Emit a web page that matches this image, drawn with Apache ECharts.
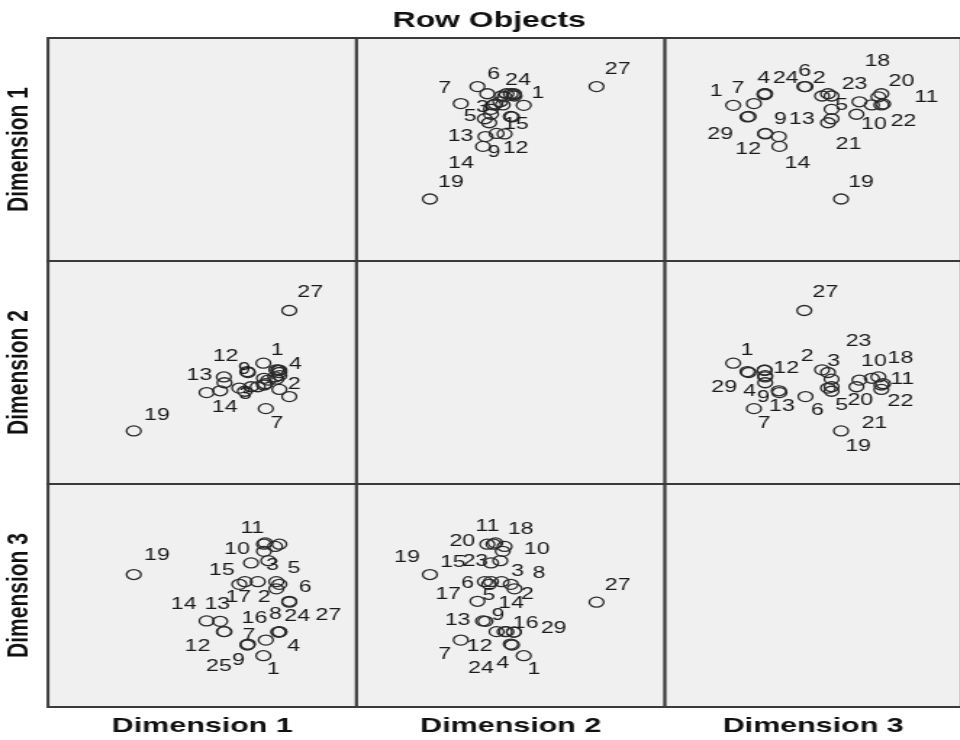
<!DOCTYPE html>
<html>
<head>
<meta charset="utf-8">
<script src="https://cdn.jsdelivr.net/npm/echarts@6/dist/echarts.min.js"></script>
<style>
  html, body { margin: 0; padding: 0; background: #ffffff; overflow: hidden; }
  #wrap { width: 960px; height: 740px; overflow: hidden; }
  #chart { width: 663px; height: 740px; transform: scaleX(1.45); transform-origin: 0 0; }
</style>
</head>
<body>
<div id="wrap"><div id="chart"></div></div>
<script>
// Object labels (row objects)
const objectIds = ['1','2','3','4','5','6','7','8','9','10','11','12','13','14','15','16','17','18','19','20','21','22','23','24','25','27','29'];
// Object scores per dimension
const dim1 = [0.49, 0.70, 0.70, 0.75, 0.40, 0.91, 0.53, 0.75, 0.23, 0.50, 0.52, -0.14, -0.21, -0.43, 0.19, 0.75, 0.10, 0.68, -1.61, 0.75, 0.29, 0.50, 0.57, 0.73, 0.24, 0.91, -0.15];
const dim2 = [-0.29, -0.44, -0.65, -0.45, -0.82, -1.04, -1.31, -0.50, -0.48, -0.63, -0.75, -0.73, -0.91, -0.95, -0.92, -0.57, -0.85, -0.60, -1.81, -0.88, -0.82, -0.78, -0.67, -0.45, -0.50, 0.89, -0.60];
const dim3 = [-1.85, -0.35, -0.19, -1.32, -0.19, -0.63, -1.50, -0.25, -1.61, 0.49, 0.68, -1.31, -1.08, -1.07, -0.19, -1.31, -0.25, 0.60, -0.03, 0.65, 0.23, 0.65, 0.28, -1.32, -1.59, -0.65, -1.31];
const dimensionNames = ['Dimension 1', 'Dimension 2', 'Dimension 3'];
const chartTitle = 'Row Objects';

// Label placement (style): which point labels are drawn in each panel and where,
// as the offset of the label centre from its marker, in screen pixels.
const labelPlacement = {
  '0-1': { '27': [22, -16], '19': [22, -16], '7': [-15, -14], '6': [17, -11], '24': [5, -13], '1': [15, -11],
           '3': [-18, 12], '5': [-20, 8], '13': [-24, 1], '15': [32, 7], '9': [-17, 36], '12': [20, 16], '14': [-21, 18] },
  '0-2': { '1': [-16, -13], '7': [-15, -14], '4': [0, -15], '24': [22, -15], '6': [0, -14], '2': [-2, -17], '23': [-4, -17],
           '18': [0, -35], '20': [21, -12], '11': [44, -6], '5': [11, -3], '9': [34, 3], '13': [24, -16], '10': [3, 20],
           '22': [23, 17], '29': [-44, 1], '12': [-16, 17], '21': [-7, 31], '14': [19, 18], '19': [21, -16] },
  '1-0': { '27': [22, -17], '19': [24, -15], '1': [15, -12], '4': [17, -5], '12': [2, -26], '9': [-2, -1], '13': [-20, -15],
           '3': [-30, 16], '2': [19, 15], '14': [19, 16], '7': [12, 16] },
  '1-2': { '27': [22, -17], '1': [15, -12], '12': [22, -14], '2': [-14, -13], '3': [3, -17], '23': [0, -38], '10': [3, -16],
           '18': [23, -18], '11': [20, -3], '22': [20, 17], '20': [-20, 12], '5': [11, 19], '21': [19, 37], '19': [18, 16],
           '6': [13, 15], '29': [-40, 11], '4': [-14, 22], '9': [17, 27], '13': [4, 16], '7': [11, 16] },
  '2-0': { '11': [-12, -14], '10': [-26, -1], '19': [24, -18], '3': [-3, -15], '5': [37, -12], '15': [-22, -10], '6': [17, -13],
           '17': [0, 14], '2': [-11, 9], '14': [-22, -16], '13': [-2, -16], '16': [-24, -12], '8': [-3, 31], '24': [20, -15],
           '27': [40, 14], '12': [-26, 16], '7': [-16, -4], '4': [15, 15], '25': [-28, 23], '9': [-8, 16], '1': [11, 15] },
  '2-1': { '11': [-7, -16], '18': [17, -16], '20': [-24, -2], '10': [35, -1], '19': [-22, -16], '15': [-31, -18], '23': [-24, 2],
           '3': [17, -9], '8': [29, -10], '27': [22, -16], '6': [-9, -17], '17': [-40, 11], '5': [-1, 15], '2': [14, 6],
           '14': [29, -17], '13': [-27, 0], '9': [-13, -29], '16': [20, -7], '29': [50, -2], '7': [-15, 15], '12': [-16, 16],
           '24': [-32, 37], '4': [-10, 32], '1': [11, 15] }
};

const dims = [dim1, dim2, dim3];
const S = 1.45;                       // horizontal stretch of the reference
const colLeft = [48 / S, 356.5 / S, 665 / S];
const colWidth = 308.5 / S;
const rowTop = [38, 261, 484];
const rowHeight = 223;
const axisMin = -3, axisMax = 2;
const SYM = 10;

const grids = [], xAxes = [], yAxes = [], series = [];
let k = 0;
for (let r = 0; r < 3; r++) {
  for (let c = 0; c < 3; c++) {
    grids.push({
      left: colLeft[c], top: rowTop[r], width: colWidth, height: rowHeight,
      show: true, backgroundColor: '#f0f0f0', borderColor: '#3a3a3a', borderWidth: 2
    });
    xAxes.push({
      type: 'value', gridIndex: k, min: axisMin, max: axisMax,
      axisLine: { show: false }, axisTick: { show: false }, axisLabel: { show: false }, splitLine: { show: false },
      name: r === 2 ? dimensionNames[c] : '', nameLocation: 'middle', nameGap: 9,
      nameTextStyle: { fontFamily: 'Liberation Sans', fontWeight: 'bold', fontSize: 21, color: '#111', verticalAlign: 'top' }
    });
    yAxes.push({
      type: 'value', gridIndex: k, min: axisMin, max: axisMax,
      axisLine: { show: false }, axisTick: { show: false }, axisLabel: { show: false }, splitLine: { show: false },
      name: c === 0 ? dimensionNames[r] : '', nameLocation: 'middle', nameGap: 9, nameRotate: 90,
      nameTextStyle: { fontFamily: 'Liberation Sans', fontWeight: 'bold', fontSize: 21, color: '#111', verticalAlign: 'bottom' }
    });
    if (r !== c) {
      const place = labelPlacement[r + '-' + c] || {};
      series.push({
        type: 'scatter', xAxisIndex: k, yAxisIndex: k,
        symbol: 'circle', symbolSize: SYM,
        itemStyle: { color: 'rgba(0,0,0,0)', borderColor: '#2a2a2a', borderWidth: 1.3, opacity: 1 },
        emphasis: { disabled: true },
        label: {
          show: false, formatter: '{b}', align: 'center', verticalAlign: 'middle',
          fontFamily: 'Liberation Sans', fontSize: 16, color: '#1a1a1a'
        },
        data: objectIds.map((id, i) => {
          const item = { name: id, value: [dims[c][i], dims[r][i]] };
          const off = place[id];
          if (off) {
            item.label = { show: true, position: [SYM / 2 + off[0] / S, SYM / 2 + off[1]] };
          }
          return item;
        })
      });
    }
    k++;
  }
}

const chart = echarts.init(document.getElementById('chart'), null, { renderer: 'canvas' });
chart.setOption({
  backgroundColor: '#ffffff',
  animation: false,
  title: {
    text: chartTitle, left: 482 / S, top: 5, textAlign: 'center',
    textStyle: { fontFamily: 'Liberation Sans', fontWeight: 'bold', fontSize: 22, color: '#111' }
  },
  grid: grids,
  xAxis: xAxes,
  yAxis: yAxes,
  series: series
});
</script>
</body>
</html>
